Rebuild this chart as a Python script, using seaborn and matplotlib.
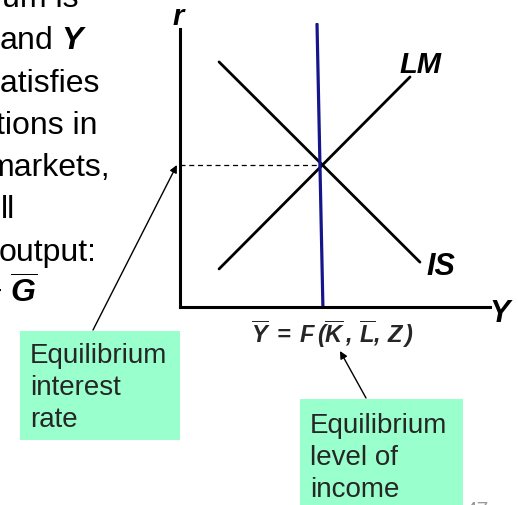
import numpy as np
import pandas as pd
import matplotlib.pyplot as plt
import matplotlib.patches as patches
import seaborn as sns

# IS-LM DIAGRAM DATA (output Y on x axis, interest rate r on y axis)
is_y = [1.26, 7.74]
is_r = [8.63, 1.58]
lm_y = [1.26, 7.42]
lm_r = [1.34, 8.10]
full_y = [4.61, 4.42]      # full-employment output line, slightly tilted
full_r = [0.0, 9.96]
eq_y = 4.58
eq_r = 5.0

# SLIDE TEXT
left_lines = ["um is", "and $\\mathbf{Y}$", "satisfies", "tions in",
              "markets,", "ll", "output:", "+ $\\mathbf{\\overline{G}}$"]
box_r_text = "Equilibrium\ninterest\nrate"
box_y_text = "Equilibrium\nlevel of\nincome"
formula = r"$\mathbf{\overline{Y}\;=\;F\,(\overline{K}\,,\,\overline{L},\,Z\,)}$"
page_no = "47"

sns.set_theme(style='white')
plt.rcParams['font.family'] = ['Liberation Sans', 'DejaVu Sans']
plt.rcParams['mathtext.fontset'] = 'custom'
plt.rcParams['mathtext.rm'] = 'Liberation Sans'
plt.rcParams['mathtext.it'] = 'Liberation Sans:italic'
plt.rcParams['mathtext.bf'] = 'Liberation Sans:italic:bold'

fig = plt.figure(figsize=(5.18, 5.06), dpi=100)
fig.patch.set_facecolor('white')

# overlay in pixel units for the slide text and boxes
ov = fig.add_axes([0, 0, 1, 1])
ov.set_xlim(0, 518)
ov.set_ylim(506, 0)
ov.axis('off')

# diagram axes
ax = fig.add_axes([180 / 518, 198 / 506, 310 / 518, 284 / 506])
ax.patch.set_alpha(0)
ax.set_xlim(0, 10)
ax.set_ylim(0, 10)
ax.set_xticks([])
ax.set_yticks([])
for s in ['top', 'right']:
    ax.spines[s].set_visible(False)
for s in ['left', 'bottom']:
    ax.spines[s].set_linewidth(2.2)
    ax.spines[s].set_color('black')
ax.spines['left'].set_bounds(0, 9.79)

sns.lineplot(x=is_y, y=is_r, ax=ax, color='black', linewidth=2.0)
sns.lineplot(x=lm_y, y=lm_r, ax=ax, color='black', linewidth=2.0)
sns.lineplot(x=[0, eq_y], y=[eq_r, eq_r], ax=ax, color='black', linewidth=0.9,
             linestyle=(0, (4, 3)))
sns.lineplot(x=full_y, y=full_r, ax=ax, color='#16168A', linewidth=2.3)

# axis labels and curve labels
lab = dict(fontweight='bold', fontstyle='italic', color='black')
ov.text(178, 25, 'r', ha='center', va='baseline', fontsize=21, **lab)
ov.text(489, 322, 'Y', ha='left', va='baseline', fontsize=22, **lab)
ov.text(399, 73, 'LM', ha='left', va='baseline', fontsize=21, **lab)
ov.text(426, 275, 'IS', ha='left', va='baseline', fontsize=22, **lab)
ov.text(333, 343, formula, ha='center', va='baseline', fontsize=17)

# cut-off bullet text on the left
right_edges = [78, 87, 100, 97, 110, 15, 97, 37]
for i, (line, xr) in enumerate(zip(left_lines, right_edges)):
    ov.text(xr, 7 + 42.3 * i, line, ha='right', va='baseline', fontsize=23,
            color='black')

# green callout boxes
ov.add_patch(patches.Rectangle((20, 332), 160, 109, facecolor='#99FFCC',
                               edgecolor='none'))
ov.add_patch(patches.Rectangle((300, 400), 163, 120, facecolor='#99FFCC',
                               edgecolor='none', clip_on=False))
for i, line in enumerate(box_r_text.split('\n')):
    ov.text(30, 363 + 32 * i, line, ha='left', va='baseline', fontsize=20)
for i, line in enumerate(box_y_text.split('\n')):
    ov.text(310, 433 + 32 * i, line, ha='left', va='baseline', fontsize=20)

# arrows from the boxes
arrow = dict(arrowstyle='-|>', color='black', lw=1.0, mutation_scale=11,
             shrinkA=0, shrinkB=0)
ov.annotate('', xy=(-0.1, eq_r), xycoords=ax.transData,
            xytext=(93, 331), textcoords=ov.transData, arrowprops=arrow)
ov.annotate('', xy=(340, 352), xytext=(366, 399), arrowprops=arrow)

ov.text(466, 516, page_no, ha='left', va='baseline', fontsize=15,
        color='#999999')

fig.savefig('out.png', dpi=100)
